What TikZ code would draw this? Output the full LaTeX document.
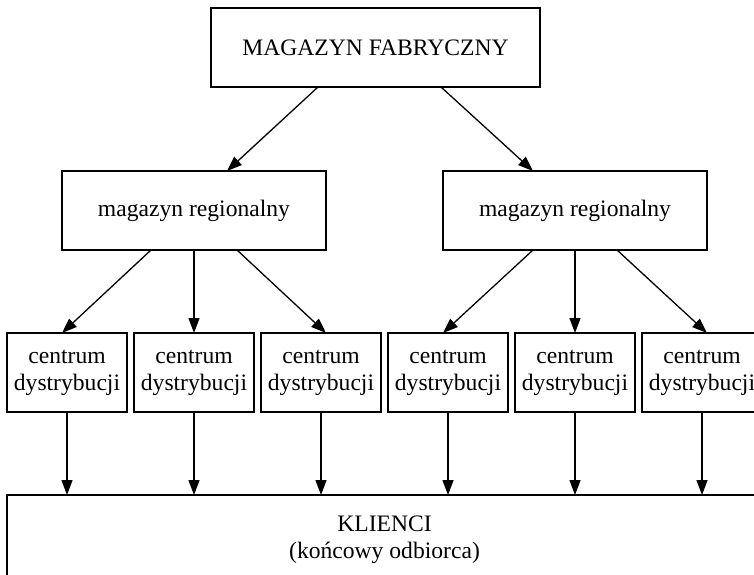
\documentclass[tikz,border=0pt]{standalone}
\usepackage{fontspec}
\setmainfont{Liberation Serif}
\usetikzlibrary{arrows.meta}

\tikzset{
  box/.style={draw=black, line width=1.3pt, rectangle, outer sep=0pt, inner sep=2pt,
              align=center, font=\fontsize{23.6}{27}\selectfont},
  cdbox/.style={box, minimum width=120, minimum height=79},
  regbox/.style={box, minimum width=264, minimum height=79},
  arr/.style={draw=black, line width=1.3pt, -{Triangle[length=15pt,width=11pt]}}
}

\begin{document}
\begin{tikzpicture}[x=1pt, y=-1pt]
  \useasboundingbox (0,0) rectangle (754,574);
  \clip (0,0) rectangle (754,574);

  % top level
  \node[box, minimum width=329, minimum height=79] (top) at (375.5,47.5) {MAGAZYN FABRYCZNY};

  % regional warehouses
  \node[regbox] (regL) at (194,210.5) {magazyn regionalny};
  \node[regbox] (regR) at (575,210.5) {magazyn regionalny};

  % distribution centres
  \node[cdbox] (cd1) at (67,372.5)  {centrum\\dystrybucji};
  \node[cdbox] (cd2) at (194,372.5) {centrum\\dystrybucji};
  \node[cdbox] (cd3) at (321,372.5) {centrum\\dystrybucji};
  \node[cdbox] (cd4) at (448,372.5) {centrum\\dystrybucji};
  \node[cdbox] (cd5) at (575,372.5) {centrum\\dystrybucji};
  \node[cdbox] (cd6) at (702,372.5) {centrum\\dystrybucji};

  % customers
  \node[box, minimum width=755, minimum height=90] (clients) at (384.5,540)
    {KLIENCI\\(końcowy odbiorca)};

  % factory -> regional
  \draw[arr] ([xshift=-57.5]top.south) -- ([xshift=33]regL.north);
  \draw[arr] ([xshift=65.5]top.south) -- ([xshift=-42]regR.north);

  % regional -> distribution centres
  \draw[arr] ([xshift=-43]regL.south) -- ([xshift=-5]cd1.north);
  \draw[arr] (regL.south) -- (cd2.north);
  \draw[arr] ([xshift=43]regL.south) -- ([xshift=5]cd3.north);
  \draw[arr] ([xshift=-42]regR.south) -- ([xshift=-5]cd4.north);
  \draw[arr] (regR.south) -- (cd5.north);
  \draw[arr] ([xshift=42]regR.south) -- ([xshift=5]cd6.north);

  % distribution centres -> customers
  \foreach \c in {cd1,cd2,cd3,cd4,cd5,cd6}
    \draw[arr] (\c.south) -- (\c.south |- clients.north);
\end{tikzpicture}
\end{document}
